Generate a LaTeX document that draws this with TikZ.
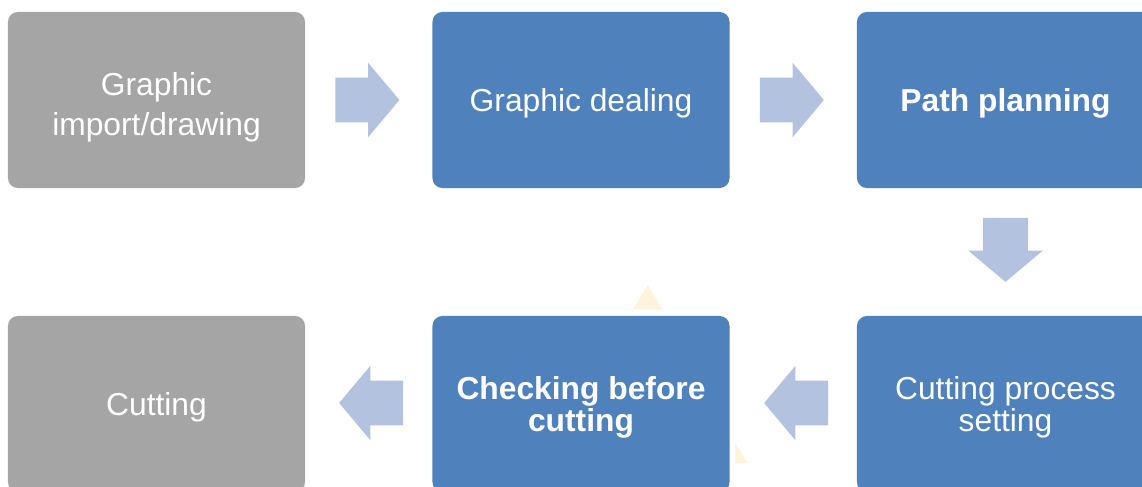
\documentclass[tikz,border=0pt]{standalone}
\usepackage{fontspec}
\setmainfont{Liberation Sans}
\usetikzlibrary{shapes.arrows}

\definecolor{boxgray}{HTML}{A5A5A5}
\definecolor{boxblue}{HTML}{4F81BD}
\definecolor{arrowblue}{HTML}{B3C3DF}
\definecolor{paleyellow}{HTML}{FFF3DC}

\tikzset{
  stepbox/.style={rectangle,rounded corners=0.25cm,minimum width=7.425cm,minimum height=4.4cm,
    text=white,align=center,inner sep=0pt,text depth=0pt,font=\fontsize{22.6}{22.8}\selectfont},
  graybox/.style={stepbox,fill=boxgray},
  bluebox/.style={stepbox,fill=boxblue},
  flowarrow/.style={single arrow,fill=arrowblue,inner xsep=0pt,inner ysep=0.55cm,minimum height=1.6cm,
    single arrow head extend=0.375cm,single arrow tip angle=100}
}

\begin{document}
\begin{tikzpicture}[x=0.025cm,y=-0.025cm]
\clip (0,0) rectangle (1142,486);
\fill[white] (0,0) rectangle (1142,486);

% top row
\node[graybox,font=\fontsize{22.6}{28.45}\selectfont] (import) at (156.5,100) {\rule{0pt}{22pt}Graphic\\import/drawing};
\node[bluebox] (deal) at (581,100) {Graphic dealing};
\node[bluebox] (plan) at (1005.5,100) {\bfseries Path planning};

% bottom row
\node[bluebox] (setting) at (1005.5,404) {Cutting process\\setting};
\node[bluebox] (check) at (581,404) {\bfseries Checking before\\\bfseries cutting};
\node[graybox] (cut) at (156.5,404) {Cutting};

% arrows
\node[flowarrow] (a1) at (358,100) {};
\node[flowarrow] (a2) at (782.5,100) {};
\node[flowarrow,rotate=-90] (a3) at (1005.5,240.5) {};
\node[flowarrow,rotate=180] (a4) at (805.5,403) {};
\node[flowarrow,rotate=180] (a5) at (380.5,403) {};

% faint marks
\fill[paleyellow] (633,309) -- (648,285) -- (662,309) -- cycle;
\fill[paleyellow] (735,443) -- (735,463) -- (748,463) -- cycle;
\end{tikzpicture}
\end{document}
